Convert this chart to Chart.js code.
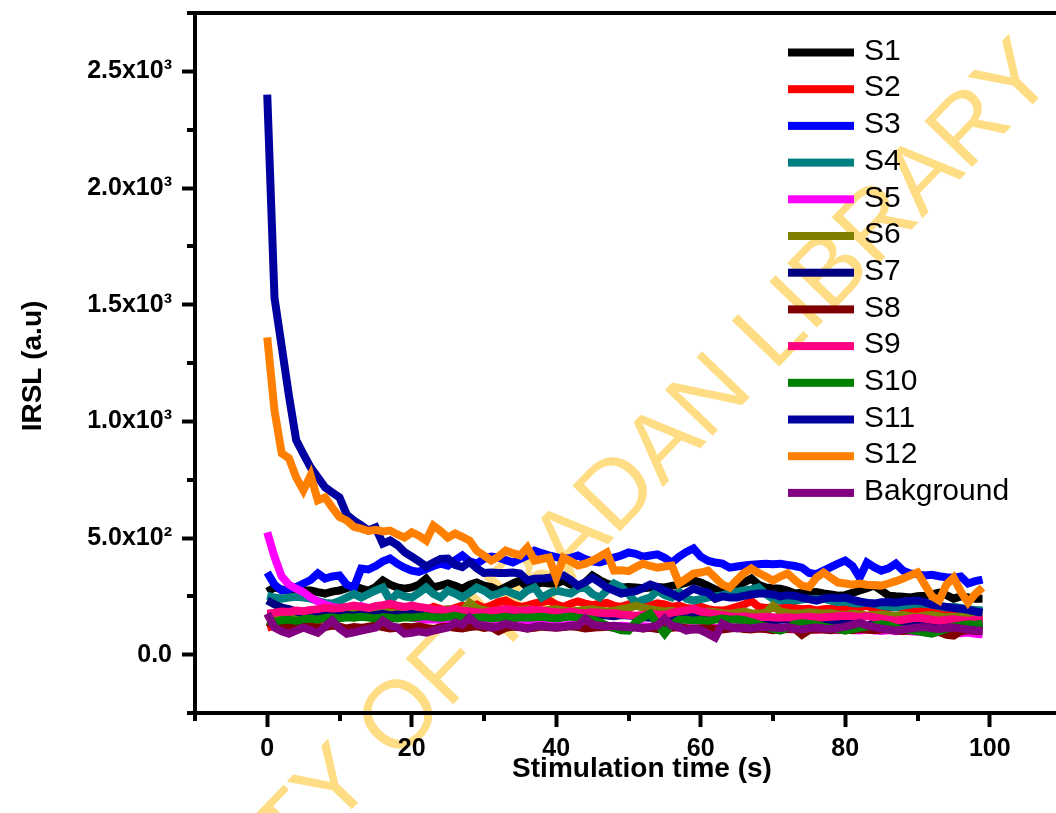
<!DOCTYPE html>
<html>
<head>
<meta charset="utf-8">
<script src="https://cdn.jsdelivr.net/npm/chart.js@4.4.1/dist/chart.umd.min.js"></script>
<style>
  html, body { margin: 0; padding: 0; background: #fff; overflow: hidden; }
  #wrap { width: 1070px; height: 813px; }
</style>
</head>
<body>
<div id="wrap"><canvas id="irsl" width="1070" height="813"></canvas></div>
<script>
// stimulation time (s)
const times = [
  0, 1, 2, 3, 4, 5, 6, 7, 8, 9,
  10, 11, 12, 13, 14, 15, 16, 17, 18, 19,
  20, 21, 22, 23, 24, 25, 26, 27, 28, 29,
  30, 31, 32, 33, 34, 35, 36, 37, 38, 39,
  40, 41, 42, 43, 44, 45, 46, 47, 48, 49,
  50, 51, 52, 53, 54, 55, 56, 57, 58, 59,
  60, 61, 62, 63, 64, 65, 66, 67, 68, 69,
  70, 71, 72, 73, 74, 75, 76, 77, 78, 79,
  80, 81, 82, 83, 84, 85, 86, 87, 88, 89,
  90, 91, 92, 93, 94, 95, 96, 97, 98, 99
];

// IRSL (a.u) per sample
const s1 = [
  270, 288, 280, 275, 270, 275, 275, 268, 262, 270,
  275, 285, 296, 283, 275, 290, 318, 300, 288, 283,
  288, 300, 326, 288, 296, 305, 295, 283, 300, 309,
  296, 290, 275, 290, 305, 318, 288, 300, 309, 305,
  305, 318, 300, 288, 310, 339, 320, 305, 295, 288,
  290, 288, 285, 288, 290, 288, 295, 300, 309, 318,
  309, 295, 280, 266, 280, 296, 310, 326, 300, 288,
  285, 283, 275, 262, 265, 266, 268, 262, 258, 253,
  255, 265, 275, 285, 296, 275, 253, 250, 248, 245,
  250, 253, 258, 266, 255, 240, 250, 245, 240, 240
];
const s2 = [
  116, 125, 140, 130, 120, 135, 150, 145, 160, 155,
  165, 170, 160, 175, 185, 189, 180, 195, 190, 185,
  200, 195, 190, 205, 195, 190, 200, 210, 205, 215,
  200, 210, 225, 232, 215, 205, 210, 220, 225, 232,
  215, 205, 218, 228, 219, 212, 218, 222, 210, 205,
  215, 219, 212, 210, 220, 215, 205, 210, 200, 197,
  205, 195, 190, 189, 195, 205, 215, 230, 205, 200,
  202, 198, 205, 200, 195, 197, 190, 195, 197, 200,
  205, 198, 202, 210, 195, 190, 200, 205, 198, 190,
  195, 200, 192, 185, 180, 178, 175, 170, 168, 167
];
const s3 = [
  352, 300, 275, 280, 290, 305, 320, 348, 326, 335,
  339, 300, 288, 369, 365, 380, 400, 412, 390, 373,
  360, 355, 367, 380, 390, 382, 405, 425, 400, 390,
  410, 420, 416, 405, 395, 410, 425, 446, 435, 425,
  418, 410, 415, 425, 410, 400, 395, 405, 416, 425,
  438, 432, 420, 425, 430, 415, 395, 420, 440, 455,
  420, 403, 395, 390, 373, 378, 382, 385, 388, 390,
  388, 390, 385, 380, 373, 350, 345, 360, 375, 390,
  403, 380, 330, 395, 375, 360, 370, 390, 360, 348,
  345, 339, 342, 336, 332, 330, 335, 305, 315, 322
];
const s4 = [
  253, 245, 240, 245, 248, 245, 240, 230, 222, 219,
  230, 245, 260, 245, 260, 275, 288, 232, 262, 250,
  245, 265, 288, 260, 245, 275, 262, 245, 265, 288,
  275, 253, 262, 275, 262, 250, 275, 288, 245, 262,
  275, 268, 262, 283, 288, 260, 245, 275, 305, 290,
  260, 223, 235, 245, 275, 255, 245, 270, 240, 232,
  238, 245, 250, 255, 262, 270, 275, 280, 288, 260,
  240, 232, 235, 232, 236, 240, 238, 240, 232, 225,
  228, 220, 219, 222, 218, 210, 205, 202, 210, 215,
  219, 218, 215, 208, 202, 205, 200, 195, 192, 189
];
const s5 = [
  524, 420, 335, 300, 283, 268, 245, 228, 215, 205,
  200, 198, 202, 208, 200, 190, 182, 175, 170, 165,
  158, 155, 150, 152, 148, 145, 150, 142, 140, 145,
  138, 140, 135, 138, 132, 135, 130, 133, 128, 132,
  130, 125, 128, 130, 125, 122, 128, 125, 120, 124,
  122, 118, 122, 120, 118, 122, 120, 115, 118, 120,
  116, 118, 115, 112, 116, 118, 114, 112, 115, 110,
  112, 115, 110, 108, 112, 110, 106, 110, 108, 105,
  108, 106, 104, 108, 105, 102, 105, 100, 103, 100,
  98, 102, 98, 96, 99, 95, 92, 95, 90, 88
];
const s6 = [
  176, 170, 165, 172, 168, 160, 165, 170, 172, 175,
  170, 178, 180, 175, 182, 178, 185, 180, 176, 182,
  185, 180, 188, 185, 190, 195, 188, 185, 223, 200,
  190, 185, 190, 195, 188, 192, 195, 190, 188, 192,
  195, 190, 185, 188, 192, 195, 190, 185, 188, 195,
  200, 210, 202, 195, 190, 185, 188, 180, 182, 178,
  180, 185, 182, 178, 175, 180, 185, 178, 175, 180,
  210, 185, 180, 175, 178, 182, 180, 175, 178, 172,
  170, 175, 172, 168, 170, 172, 168, 167, 170, 165,
  162, 168, 170, 165, 160, 162, 165, 160, 158, 160
];
const s7 = [
  232, 215, 202, 195, 185, 176, 180, 172, 168, 170,
  165, 170, 168, 172, 165, 170, 175, 168, 172, 170,
  175, 168, 172, 178, 170, 165, 170, 175, 172, 168,
  170, 175, 180, 172, 168, 175, 180, 172, 170, 168,
  172, 175, 170, 168, 165, 170, 172, 168, 165, 170,
  168, 165, 160, 158, 162, 165, 160, 158, 162, 160,
  158, 155, 158, 160, 155, 152, 150, 155, 152, 150,
  148, 150, 152, 148, 145, 148, 150, 145, 142, 140,
  145, 142, 140, 120, 138, 142, 140, 138, 135, 138,
  140, 136, 132, 135, 138, 135, 132, 135, 138, 140
];
const s8 = [
  140, 130, 125, 118, 122, 128, 120, 115, 118, 125,
  120, 112, 118, 115, 120, 125, 118, 112, 115, 120,
  118, 122, 115, 110, 118, 120, 115, 112, 118, 122,
  115, 118, 100, 115, 120, 118, 112, 115, 120, 118,
  115, 118, 122, 118, 112, 115, 118, 120, 115, 110,
  115, 118, 112, 115, 110, 112, 115, 118, 112, 108,
  112, 115, 110, 108, 112, 115, 110, 108, 112, 110,
  105, 108, 110, 112, 85, 105, 110, 108, 105, 110,
  108, 105, 110, 108, 105, 108, 110, 105, 102, 105,
  108, 105, 100, 98, 85, 82, 100, 105, 102, 100
];
const s9 = [
  176, 180, 185, 183, 189, 186, 192, 195, 202, 198,
  200, 205, 210, 205, 200, 208, 212, 219, 210, 205,
  210, 205, 200, 195, 192, 189, 195, 188, 185, 182,
  180, 186, 190, 197, 192, 188, 190, 192, 189, 185,
  182, 180, 185, 180, 178, 182, 180, 176, 178, 172,
  170, 167, 170, 175, 172, 170, 180, 185, 190, 197,
  185, 180, 175, 170, 165, 162, 165, 160, 159, 162,
  160, 158, 160, 157, 160, 162, 158, 160, 162, 165,
  167, 165, 162, 165, 160, 155, 150, 146, 150, 155,
  158, 155, 150, 146, 150, 152, 148, 145, 150, 146
];
const s10 = [
  146, 140, 148, 150, 145, 152, 155, 150, 158, 159,
  155, 160, 158, 162, 159, 155, 160, 158, 155, 160,
  158, 162, 165, 160, 158, 162, 167, 160, 155, 158,
  160, 155, 158, 162, 155, 160, 158, 160, 162, 158,
  155, 160, 163, 158, 155, 150, 140, 125, 115, 105,
  103, 140, 160, 176, 130, 90, 130, 150, 150, 146,
  148, 145, 150, 155, 150, 152, 148, 140, 130, 120,
  110, 103, 115, 130, 135, 132, 128, 120, 115, 110,
  103, 110, 115, 120, 125, 130, 125, 115, 110, 105,
  100, 95, 90, 100, 110, 120, 125, 130, 128, 133
];
const s11 = [
  2400, 1530, 1320, 1110, 920, 860, 803, 760, 717, 695,
  674, 600, 575, 555, 532, 545, 476, 489, 470, 440,
  420, 400, 378, 395, 410, 412, 385, 375, 398, 370,
  350, 352, 350, 350, 352, 348, 318, 325, 326, 330,
  335, 340, 320, 296, 310, 330, 310, 288, 275, 262,
  268, 272, 285, 300, 290, 275, 262, 245, 265, 283,
  272, 266, 240, 250, 245, 245, 252, 258, 262, 262,
  258, 250, 255, 253, 245, 238, 232, 240, 245, 242,
  245, 235, 228, 222, 219, 225, 226, 223, 228, 230,
  232, 225, 215, 210, 205, 200, 197, 192, 185, 180
];
const s12 = [
  1360, 1048, 863, 842, 760, 704, 768, 661, 674, 630,
  590, 575, 548, 540, 530, 535, 528, 532, 515, 502,
  524, 510, 489, 553, 530, 502, 519, 505, 489, 445,
  425, 403, 420, 446, 435, 425, 459, 403, 410, 416,
  330, 416, 400, 382, 390, 403, 420, 438, 360, 362,
  358, 375, 390, 380, 373, 378, 382, 305, 326, 348,
  352, 360, 330, 300, 288, 320, 350, 369, 350, 335,
  318, 335, 348, 320, 296, 290, 330, 352, 330, 309,
  305, 300, 305, 300, 298, 296, 305, 315, 326, 340,
  352, 300, 250, 232, 300, 330, 270, 223, 260, 288
];
const bakground = [
  176, 116, 100, 90, 103, 116, 105, 94, 120, 146,
  112, 90, 96, 103, 110, 116, 146, 125, 116, 90,
  94, 100, 94, 103, 110, 116, 137, 128, 159, 130,
  124, 116, 120, 133, 125, 118, 112, 120, 124, 118,
  116, 120, 124, 125, 155, 130, 124, 122, 124, 120,
  118, 116, 112, 118, 125, 155, 124, 118, 103, 110,
  105, 90, 73, 133, 118, 112, 115, 112, 118, 120,
  116, 114, 118, 112, 108, 113, 116, 112, 110, 115,
  120, 128, 137, 125, 118, 112, 108, 103, 108, 112,
  116, 118, 113, 110, 114, 116, 112, 108, 105, 103
];

const seriesValues = [s1, s2, s3, s4, s5, s6, s7, s8, s9, s10, s11, s12, bakground];
const seriesLabels = ['S1', 'S2', 'S3', 'S4', 'S5', 'S6', 'S7', 'S8', 'S9', 'S10', 'S11', 'S12', 'Bakground'];
const seriesColors = ['#000000', '#FF0000', '#0000FF', '#008080', '#FF00FF', '#808000', '#000080',
                      '#800000', '#FF0080', '#008000', '#0000A0', '#FF8000', '#800080'];

// axes
const xTicks = [-10, 0, 10, 20, 30, 40, 50, 60, 70, 80, 90, 100, 110];
const xMajor = [0, 20, 40, 60, 80, 100];
const xTickLabels = ['0', '20', '40', '60', '80', '100'];
const yTicks = [-250, 0, 250, 500, 750, 1000, 1250, 1500, 1750, 2000, 2250, 2500, 2750];
const yMajor = [0, 500, 1000, 1500, 2000, 2500];
const yTickLabels = ['0.0', '5.0x10²', '1.0x10³', '1.5x10³', '2.0x10³', '2.5x10³'];
const xTitle = 'Stimulation time (s)';
const yTitle = 'IRSL (a.u)';
const watermarkText = 'UNIVERSITY OF IBADAN LIBRARY';

const FONT = 'Arial, "Liberation Sans", sans-serif';

const datasets = seriesValues.map((vals, i) => ({
    label: seriesLabels[i],
    data: vals.map((v, k) => ({ x: times[k], y: v })),
    borderColor: seriesColors[i],
    backgroundColor: seriesColors[i],
    borderWidth: 8,
    pointRadius: 0,
    tension: 0,
    fill: false,
    order: seriesValues.length - 1 - i   // later series drawn on top
}));

// watermark under everything, frame / minor ticks / titles / legend on top
const decorations = {
    id: 'decorations',
    beforeDraw(chart) {
        const ctx = chart.ctx;
        ctx.save();
        ctx.font = '96px ' + FONT;
        ctx.fillStyle = '#FFDD85';
        ctx.translate(397, 713);
        ctx.rotate(-46 * Math.PI / 180);
        const pre = ctx.measureText('UNIVERSITY ').width + ctx.measureText('O').width / 2;
        ctx.textBaseline = 'alphabetic';
        ctx.fillText(watermarkText, -pre, 0.358 * 96);
        ctx.restore();
    },
    afterDraw(chart) {
        const { ctx, chartArea: a, scales: { x, y } } = chart;
        ctx.save();
        ctx.strokeStyle = '#000';
        ctx.lineWidth = 4;

        // top frame line
        ctx.beginPath();
        ctx.moveTo(a.left - 2, a.top);
        ctx.lineTo(chart.width, a.top);
        ctx.stroke();

        // minor ticks
        ctx.beginPath();
        xTicks.filter(v => !xMajor.includes(v)).forEach(v => {
            const px = Math.round(x.getPixelForValue(v));
            ctx.moveTo(px, a.bottom);
            ctx.lineTo(px, a.bottom + 8);
        });
        yTicks.filter(v => !yMajor.includes(v)).forEach(v => {
            const py = Math.round(y.getPixelForValue(v));
            ctx.moveTo(a.left, py);
            ctx.lineTo(a.left - 8, py);
        });
        ctx.stroke();

        // axis titles
        ctx.fillStyle = '#000';
        ctx.font = 'bold 28px ' + FONT;
        ctx.textAlign = 'center';
        ctx.textBaseline = 'middle';
        ctx.fillText(xTitle, 642, 769);
        ctx.translate(33, 366);
        ctx.rotate(-Math.PI / 2);
        ctx.fillText(yTitle, 0, 0);
        ctx.restore();

        // legend
        ctx.save();
        ctx.font = '30px ' + FONT;
        ctx.textAlign = 'left';
        ctx.textBaseline = 'middle';
        chart.data.datasets.forEach((ds, i) => {
            const cy = 52.5 + i * 36.7;
            ctx.fillStyle = ds.borderColor;
            ctx.fillRect(788, cy - 4, 66, 8);
            ctx.fillStyle = '#000';
            ctx.fillText(ds.label, 864, cy - 1);
        });
        ctx.restore();
    }
};

new Chart(document.getElementById('irsl'), {
    type: 'line',
    data: { datasets: datasets },
    options: {
        responsive: false,
        animation: false,
        devicePixelRatio: 1,
        layout: { padding: { left: 0, top: 13, right: 8, bottom: 0 } },
        plugins: {
            legend: { display: false },
            tooltip: { enabled: false }
        },
        elements: { line: { borderJoinStyle: 'miter' } },
        scales: {
            x: {
                type: 'linear',
                min: -10,
                max: 110,
                afterBuildTicks: s => { s.ticks = xTicks.map(v => ({ value: v })); },
                afterFit: s => { s.height = 100; s.paddingLeft = 0; s.paddingRight = 0; },
                ticks: {
                    autoSkip: false,
                    maxRotation: 0,
                    padding: 7,
                    color: '#000',
                    font: { family: FONT, size: 25, weight: 'bold' },
                    callback: v => { const k = xMajor.indexOf(v); return k < 0 ? '' : xTickLabels[k]; }
                },
                grid: {
                    drawOnChartArea: false,
                    tickLength: 14,
                    tickWidth: 4,
                    tickColor: c => (c.tick && xMajor.includes(c.tick.value)) ? '#000' : 'rgba(0,0,0,0)'
                },
                border: { display: true, color: '#000', width: 4 }
            },
            y: {
                type: 'linear',
                min: -250,
                max: 2750,
                afterBuildTicks: s => { s.ticks = yTicks.map(v => ({ value: v })); },
                afterFit: s => { s.width = 195; s.paddingTop = 0; s.paddingBottom = 0; },
                ticks: {
                    autoSkip: false,
                    padding: 10,
                    color: '#000',
                    font: { family: FONT, size: 25, weight: 'bold' },
                    callback: v => { const k = yMajor.indexOf(v); return k < 0 ? '' : yTickLabels[k]; }
                },
                grid: {
                    drawOnChartArea: false,
                    tickLength: 13,
                    tickWidth: 4,
                    tickColor: c => (c.tick && yMajor.includes(c.tick.value)) ? '#000' : 'rgba(0,0,0,0)'
                },
                border: { display: true, color: '#000', width: 4 }
            }
        }
    },
    plugins: [decorations]
});
</script>
</body>
</html>
